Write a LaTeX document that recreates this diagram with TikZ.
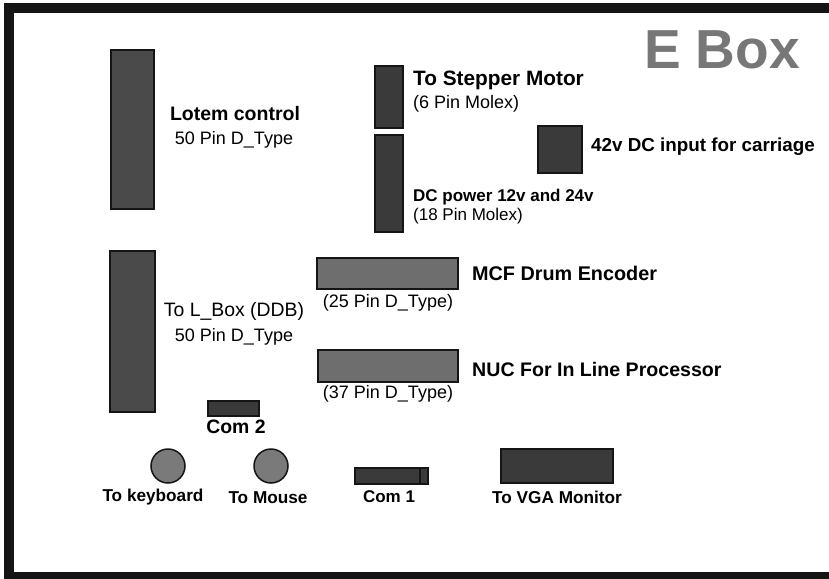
\documentclass[tikz,border=0pt]{standalone}
\usepackage{fontspec}
\setmainfont{Liberation Sans}
\definecolor{dk}{HTML}{3A3A3A}
\definecolor{md}{HTML}{4A4A4A}
\definecolor{lt}{HTML}{6E6E6E}
\definecolor{cc}{HTML}{7A7A7A}
\definecolor{frame}{HTML}{151515}
\definecolor{title}{HTML}{777777}
\tikzset{
  conn/.style={draw=frame, line width=1.5pt, inner sep=0pt, outer sep=0pt},
  darkbox/.style={conn, fill=dk},
  midbox/.style={conn, fill=md},
  lightbox/.style={conn, fill=lt},
  jack/.style={conn, circle, fill=cc, minimum size=34pt},
  bl/.style={inner sep=0pt, font=\fontsize{19.4}{22}\selectfont\bfseries},
  rl/.style={inner sep=0pt, font=\fontsize{18}{21}\selectfont},
}
\begin{document}
\begin{tikzpicture}[x=1pt,y=-1pt]
\useasboundingbox (0,0) rectangle (829,578);
\clip (0,0) rectangle (829,578);
\fill[white] (0,0) rectangle (829,578);
% frame
\draw[frame, line width=10pt] (9,8) rectangle (840,577);
% title
\node[inner sep=0pt, text=title, font=\fontsize{55}{60}\selectfont\bfseries] (ebox) at (722,50) {E Box};
% Lotem control
\node[midbox, minimum width=43pt, minimum height=159pt] (lotem) at (132.5,129.5) {};
\node[bl, font=\fontsize{19.5}{22}\selectfont\bfseries] (lotemt) at (235,114) {Lotem control};
\node[rl] (lotems) at (234,140) {50 Pin D\_Type};
% Stepper
\node[darkbox, minimum width=28pt, minimum height=62pt] (step1) at (389,97) {};
\node[bl, anchor=west, font=\fontsize{20.8}{23}\selectfont\bfseries] (stept) at (413,80) {To Stepper Motor};
\node[rl, anchor=west] (steps) at (413,104) {(6 Pin Molex)};
% DC power
\node[darkbox, minimum width=28pt, minimum height=97pt] (dcp) at (389,183.5) {};
\node[bl, anchor=west, font=\fontsize{17}{20}\selectfont\bfseries] (dct) at (413,197) {DC power 12v and 24v};
\node[rl, anchor=west, font=\fontsize{17}{20}\selectfont] (dcs) at (413,216) {(18 Pin Molex)};
% 42v
\node[darkbox, minimum width=44pt, minimum height=47pt] (v42) at (560,149.5) {};
\node[bl, anchor=west, font=\fontsize{18.8}{22}\selectfont\bfseries] (v42t) at (591,147) {42v DC input for carriage};
% L_Box
\node[midbox, minimum width=45pt, minimum height=161pt] (lbox) at (132.5,331.5) {};
\node[rl, font=\fontsize{19.4}{22}\selectfont] (lboxt) at (234,311) {To L\_Box (DDB)};
\node[rl] (lboxs) at (234,337) {50 Pin D\_Type};
% MCF
\node[lightbox, minimum width=141pt, minimum height=31pt] (mcf) at (387.5,273.5) {};
\node[rl] (mcfs) at (388,303) {(25 Pin D\_Type)};
\node[bl, anchor=west, font=\fontsize{19.8}{22}\selectfont\bfseries] (mcft) at (472,273) {MCF Drum Encoder};
% NUC
\node[lightbox, minimum width=140pt, minimum height=32pt] (nuc) at (388,366) {};
\node[rl] (nucs) at (388,394) {(37 Pin D\_Type)};
\node[bl, anchor=west, font=\fontsize{19.6}{22}\selectfont\bfseries] (nuct) at (472,369) {NUC For In Line Processor};
% Com 2
\node[darkbox, minimum width=51pt, minimum height=15pt] (com2) at (233.5,408.5) {};
\node[bl] (com2t) at (236,427) {Com 2};
% keyboard / mouse
\node[jack] (kb) at (168,466) {};
\node[bl, font=\fontsize{17.2}{20}\selectfont\bfseries] (kbt) at (153,497) {To keyboard};
\node[jack] (ms) at (271,466) {};
\node[bl, font=\fontsize{17.2}{20}\selectfont\bfseries] (mst) at (268,498) {To Mouse};
% Com 1
\node[darkbox, minimum width=73pt, minimum height=16pt] (com1) at (391.5,476) {};
\draw[frame, line width=1.5pt] (420,468) -- (420,484);
\node[bl, font=\fontsize{17}{20}\selectfont\bfseries] (com1t) at (389,497) {Com 1};
% VGA
\node[darkbox, minimum width=112pt, minimum height=34pt] (vga) at (557,466) {};
\node[bl, font=\fontsize{17.2}{20}\selectfont\bfseries] (vgat) at (557,497) {To VGA Monitor};
\end{tikzpicture}
\end{document}
